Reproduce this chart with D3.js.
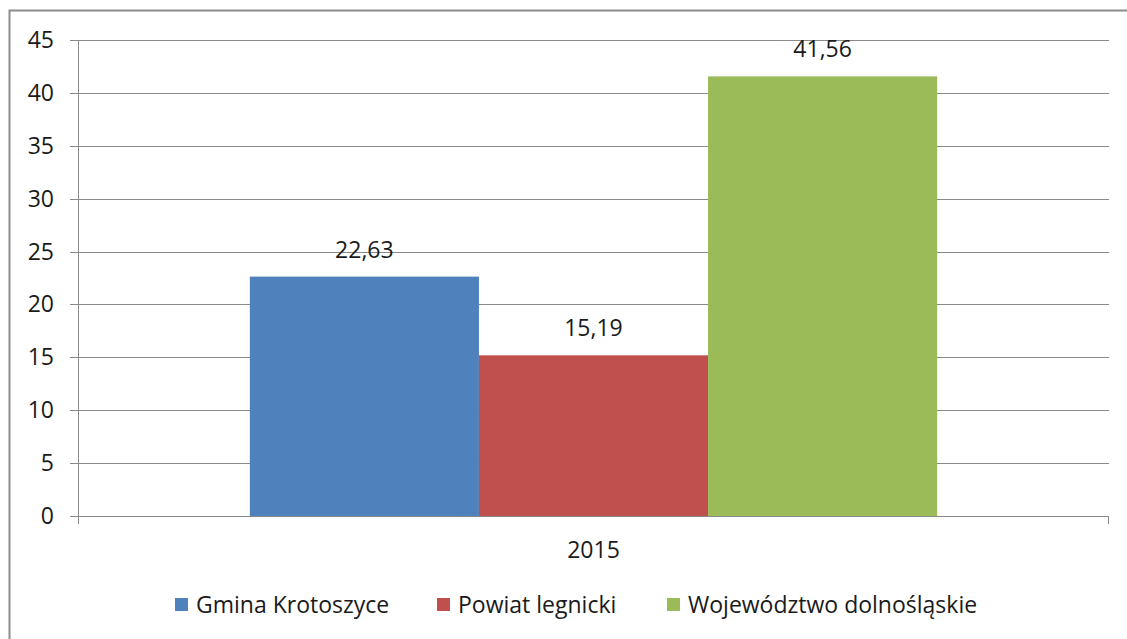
<!DOCTYPE html>
<html>
<head>
<meta charset="utf-8">
<script src="https://cdn.jsdelivr.net/npm/d3@7"></script>
<style>
  body { margin: 0; background: #fff; }
  svg { display: block; font-family: "Open Sans", "Noto Sans", sans-serif; }
</style>
</head>
<body>
<div id="chart"></div>
<script>
// chart data
var years = ["2015"];
var seriesNames = ["Gmina Krotoszyce", "Powiat legnicki", "Województwo dolnośląskie"];
var seriesValues = [22.63, 15.19, 41.56];
var seriesColors = ["#4F81BD", "#C0504D", "#9BBB59"];
var yTicks = [0, 5, 10, 15, 20, 25, 30, 35, 40, 45];

var width = 1127, height = 639;
var margin = {top: 40, right: 18, bottom: 123, left: 78};
var fontSize = 23;

var svg = d3.select("#chart").append("svg")
    .attr("width", width)
    .attr("height", height);

// outer frame (right and bottom edges are cut off in the original)
svg.append("path")
    .attr("d", "M9.5," + height + " V10.5 H" + width)
    .attr("fill", "none")
    .attr("stroke", "#8c8c8c")
    .attr("stroke-width", 2);

var plotW = width - margin.left - margin.right;
var plotH = height - margin.top - margin.bottom;

var g = svg.append("g")
    .attr("transform", "translate(" + margin.left + "," + margin.top + ")");

var x = d3.scaleBand().domain(years).range([0, plotW]).paddingInner(0).paddingOuter(0);
var y = d3.scaleLinear().domain([0, 45]).range([plotH, 0]);

// group of bars takes 2/3 of the band (gap width 75%)
var xInner = d3.scaleBand().domain(seriesNames)
    .range([x.bandwidth() / 6, x.bandwidth() * 5 / 6]);

// horizontal gridlines
g.append("g").selectAll("line")
    .data(yTicks)
    .enter().append("line")
    .attr("x1", -8)
    .attr("x2", plotW)
    .attr("y1", function(d) { return Math.round(y(d)) + 0.5; })
    .attr("y2", function(d) { return Math.round(y(d)) + 0.5; })
    .attr("stroke", "#8a8a8a")
    .attr("stroke-width", 1);

// y tick labels
g.append("g").selectAll("text")
    .data(yTicks)
    .enter().append("text")
    .attr("x", -24)
    .attr("y", function(d) { return y(d); })
    .attr("dy", "0.35em")
    .attr("text-anchor", "end")
    .attr("font-size", fontSize)
    .attr("fill", "#1a1a1a")
    .text(function(d) { return d; });

// bars
var years0 = years[0];
g.append("g").selectAll("rect")
    .data(seriesValues)
    .enter().append("rect")
    .attr("x", function(d, i) { return x(years0) + xInner(seriesNames[i]); })
    .attr("y", function(d) { return y(d); })
    .attr("width", xInner.bandwidth())
    .attr("height", function(d) { return plotH - y(d); })
    .attr("fill", function(d, i) { return seriesColors[i]; });

// value labels
g.append("g").selectAll("text")
    .data(seriesValues)
    .enter().append("text")
    .attr("x", function(d, i) { return x(years0) + xInner(seriesNames[i]) + xInner.bandwidth() / 2; })
    .attr("y", function(d) { return y(d) - 19; })
    .attr("text-anchor", "middle")
    .attr("font-size", fontSize)
    .attr("fill", "#1a1a1a")
    .text(function(d) { return d.toFixed(2).replace(".", ","); });

// axes lines
g.append("line")
    .attr("x1", 0.5).attr("x2", 0.5)
    .attr("y1", 0).attr("y2", plotH + 8)
    .attr("stroke", "#8a8a8a");
g.append("line")
    .attr("x1", 0).attr("x2", plotW)
    .attr("y1", plotH + 0.5).attr("y2", plotH + 0.5)
    .attr("stroke", "#8a8a8a");
g.append("line")
    .attr("x1", plotW - 0.5).attr("x2", plotW - 0.5)
    .attr("y1", plotH).attr("y2", plotH + 8)
    .attr("stroke", "#8a8a8a");

// category label
g.append("text")
    .attr("x", x(years0) + x.bandwidth() / 2)
    .attr("y", plotH + 42)
    .attr("text-anchor", "middle")
    .attr("font-size", fontSize)
    .attr("fill", "#1a1a1a")
    .text(years0);

// legend
var legendX = [175, 437, 667];
var legend = svg.append("g").selectAll("g")
    .data(seriesNames)
    .enter().append("g")
    .attr("transform", function(d, i) { return "translate(" + legendX[i] + ",598)"; });
legend.append("rect")
    .attr("width", 13).attr("height", 13)
    .attr("fill", function(d, i) { return seriesColors[i]; });
legend.append("text")
    .attr("x", 21)
    .attr("y", 7)
    .attr("dy", "0.35em")
    .attr("font-size", fontSize)
    .attr("fill", "#1a1a1a")
    .text(function(d) { return d; });
</script>
</body>
</html>
